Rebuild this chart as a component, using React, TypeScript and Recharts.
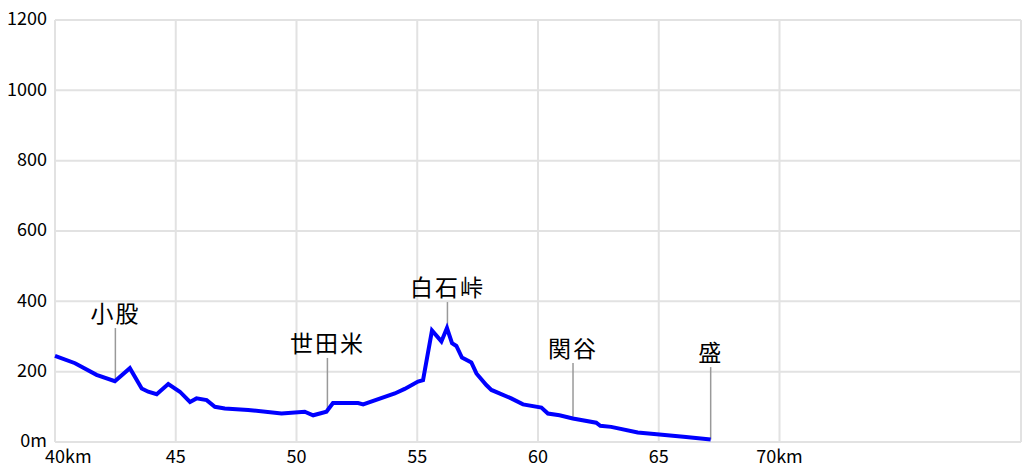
import React from 'react';
import { ComposedChart, Line, Scatter, XAxis, YAxis, CartesianGrid, ReferenceLine } from 'recharts';

const distanceKm = [40, 40.83, 41.72, 42.48, 43.1, 43.59, 43.86, 44.21, 44.69, 45.17, 45.59, 45.86, 46.28, 46.62, 47.03, 48.0, 49.38, 50.34, 50.69, 51.24, 51.51, 52.07, 52.55, 52.76, 54.07, 54.48, 55.03, 55.24, 55.61, 56.0, 56.23, 56.44, 56.62, 56.85, 57.24, 57.45, 57.86, 58.07, 58.89, 59.38, 60.14, 60.41, 60.89, 61.44, 62.41, 62.58, 63.03, 64.13, 65.03, 66.13, 67.15];
const elevationM = [245, 224, 191, 173, 210, 152, 143, 136, 165, 143, 114, 124, 119, 100, 95, 91, 81, 86, 76, 86, 111, 111, 111, 107, 138, 151, 172, 176, 317, 286, 324, 281, 273, 240, 226, 195, 162, 148, 124, 107, 98, 81, 76, 67, 55, 46, 43, 27, 21, 14, 7];

const placeNames = ['小股', '世田米', '白石峠', '関谷', '盛'];
const placeKm = [42.5, 51.28, 56.25, 61.45, 67.15];
const placeElev = [173, 86, 324, 67, 7];
const placeLabelElev = [324, 239, 398, 225, 213];

const xTicks = [40, 45, 50, 55, 60, 65, 70];
const yTicks = [0, 200, 400, 600, 800, 1000, 1200];

const profile = distanceKm.map((km, i) => ({ km, elev: elevationM[i] }));
const places = placeNames.map((name, i) => ({ km: placeKm[i], elev: placeLabelElev[i], name }));

const FONT = '"Noto Sans CJK JP", "Noto Sans", sans-serif';

const XTick = (props: any) => {
  const { x, y, payload, index } = props;
  const v = payload.value;
  const label = v === 40 || v === 70 ? `${v}km` : `${v}`;
  if (index === 0) {
    return (
      <text x={x - 10} y={y} dy="0.71em" textAnchor="start" fontSize={18} fontFamily={FONT} fill="#000">
        {label}
      </text>
    );
  }
  return (
    <text x={x} y={y} dy="0.71em" textAnchor="middle" fontSize={18} fontFamily={FONT} fill="#000">
      {label}
    </text>
  );
};

const YTick = (props: any) => {
  const { x, y, payload } = props;
  const v = payload.value;
  return (
    <text x={x} y={y - 1} dy="0.36em" textAnchor="end" fontSize={18} fontFamily={FONT} fill="#000">
      {v === 0 ? '0m' : `${v}`}
    </text>
  );
};

const PlaceLabel = (props: any) => {
  const { cx, cy, payload } = props;
  return (
    <text x={cx} y={cy - 6} textAnchor="middle" fontSize={23} letterSpacing={2} fontFamily={FONT} fill="#000">
      {payload.name}
    </text>
  );
};

export default function App() {
  return (
    <div style={{ position: 'absolute', left: 0, top: 0, width: 1024, height: 476, background: '#fff' }}>
      <ComposedChart width={1024} height={476} margin={{ top: 20, right: 3, left: 0, bottom: 0 }}>
        <CartesianGrid stroke="#e2e2e2" strokeWidth={2} />
        <XAxis
          type="number"
          dataKey="km"
          domain={[40, 80]}
          ticks={xTicks}
          axisLine={false}
          tickLine={false}
          height={34}
          tick={<XTick />}
          interval={0}
        />
        <YAxis
          type="number"
          domain={[0, 1200]}
          ticks={yTicks}
          axisLine={false}
          tickLine={false}
          width={55}
          tick={<YTick />}
          interval={0}
        />
        <ReferenceLine x={80} stroke="#e2e2e2" strokeWidth={2} />
        {placeKm.map((km, i) => (
          <ReferenceLine
            key={placeNames[i]}
            segment={[{ x: km, y: placeElev[i] }, { x: km, y: placeLabelElev[i] }]}
            stroke="#999"
            strokeWidth={1.5}
          />
        ))}
        <Line
          data={profile}
          dataKey="elev"
          type="linear"
          stroke="#0000ff"
          strokeWidth={4}
          dot={false}
          activeDot={false}
          isAnimationActive={false}
        />
        <Scatter data={places} dataKey="elev" shape={<PlaceLabel />} isAnimationActive={false} />
      </ComposedChart>
    </div>
  );
}
